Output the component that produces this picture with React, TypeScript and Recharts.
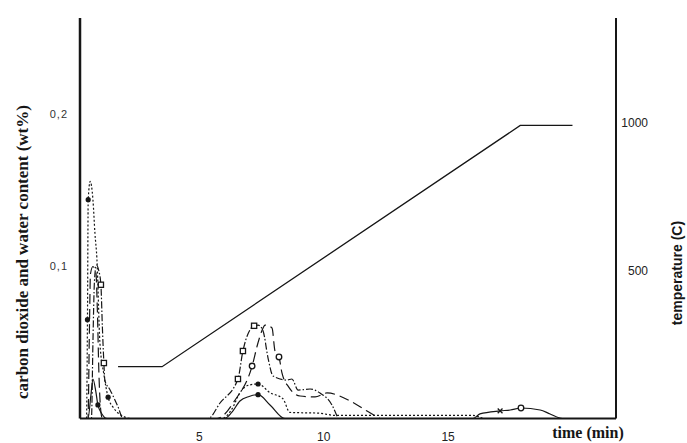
import { LineChart, Line, XAxis, YAxis } from "recharts";

// axis ticks
const timeTicks = [5, 10, 15];
const contentTicks = [0.1, 0.2];
const tempTicks = [500, 1000];

// temperature programme (C)
const tempTime = [1.73, 3.5, 17.9, 20.0];
const tempValue = [175, 175, 990, 990];

// dotted curve, filled dots
const s1Time = [0.3, 0.46, 0.5, 0.53, 0.61, 0.72, 0.8, 0.88, 1.0, 1.16, 1.33, 1.55, 1.73, 2.29, 5.9, 6.3, 6.63, 7.0, 7.36, 7.84, 8.36, 8.64, 9.8, 10.5, 13, 16, 16.4];
const s1Value = [0, 0, 0.065, 0.144, 0.156, 0.144, 0.122, 0.105, 0.05, 0.029, 0.014, 0.007, 0.0036, 0, 0, 0.006, 0.017, 0.022, 0.0227, 0.017, 0.013, 0.004, 0.0035, 0.002, 0.002, 0.002, 0];
const s1Dots = [0.5, 0.53, 1.33, 7.36];

// solid curve
const s2Time = [0.3, 0.52, 0.64, 0.72, 0.84, 0.92, 1.08, 1.29, 6.0, 6.3, 6.63, 7.0, 7.36, 7.84, 8.44, 16.0, 16.28, 17.09, 17.5, 17.93, 18.7, 19.1, 19.6, 21.0];
const s2Value = [0, 0, 0.0155, 0.026, 0.0174, 0.0089, 0.003, 0, 0, 0.004, 0.0115, 0.0145, 0.0157, 0.0089, 0, 0, 0.003, 0.005, 0.0056, 0.0069, 0.0056, 0.003, 0, 0];
const s2Dots = [0.92, 7.36];
const s2Cross = [17.09];
const s2Rings = [17.93];

// dash-dot curve, open squares
const s3Time = [0.3, 0.66, 0.72, 0.78, 0.86, 0.96, 1.04, 1.1, 1.16, 1.2, 1.41, 1.73, 1.93, 5.35, 5.83, 6.55, 6.75, 7.2, 7.36, 7.56, 7.76, 7.96, 8.52, 8.72, 8.97, 9.45, 9.85, 10.33, 10.57];
const s3Value = [0, 0, 0.05, 0.09, 0.101, 0.097, 0.088, 0.06, 0.0365, 0.025, 0.0188, 0.0076, 0, 0, 0.0102, 0.026, 0.0444, 0.061, 0.0615, 0.0576, 0.0398, 0.028, 0.0253, 0.026, 0.0187, 0.0194, 0.0168, 0.0089, 0];
const s3Squares = [1.04, 1.16, 6.55, 6.75, 7.2];

// long-dash curve, open circles
const s4Time = [0.3, 0.52, 0.58, 0.62, 0.72, 0.84, 0.9, 0.96, 1.02, 1.1, 5.71, 6.43, 7.12, 7.36, 7.52, 7.64, 7.92, 8.04, 8.2, 8.32, 8.6, 9.05, 9.65, 10.13, 11.06, 11.74, 12.26];
const s4Value = [0, 0, 0.06, 0.095, 0.1, 0.096, 0.07, 0.03, 0.008, 0, 0, 0.012, 0.0345, 0.05, 0.058, 0.0615, 0.0595, 0.0444, 0.0405, 0.03, 0.0205, 0.0148, 0.0142, 0.0168, 0.0115, 0.0049, 0];
const s4Rings = [7.12, 8.2];

const INK = "#161616";
const SANS = "'Liberation Sans Narrow', 'Liberation Sans', Arial, sans-serif";
const SERIF = "'Liberation Serif', 'Times New Roman', serif";

function toRows(time: number[], value: number[], marks: Record<string, number[]> = {}) {
  return time.map((t, i) => {
    let m = "";
    for (const k of Object.keys(marks)) if (marks[k].includes(t)) m = k;
    return { t, v: value[i], m };
  });
}

const tempRows = toRows(tempTime, tempValue);
const s1Rows = toRows(s1Time, s1Value, { dot: s1Dots });
const s2Rows = toRows(s2Time, s2Value, { dot: s2Dots, cross: s2Cross, ring: s2Rings });
const s3Rows = toRows(s3Time, s3Value, { square: s3Squares });
const s4Rows = toRows(s4Time, s4Value, { ring: s4Rings });

const Marker = (props: any) => {
  const { cx, cy, payload, index } = props;
  const key = `mk-${index}`;
  if (!payload?.m || cx == null || cy == null) return <g key={key} />;
  switch (payload.m) {
    case "dot":
      return <circle key={key} cx={cx} cy={cy} r={2.6} fill={INK} />;
    case "ring":
      return <circle key={key} cx={cx} cy={cy} r={2.8} fill="#fff" stroke={INK} strokeWidth={1.3} />;
    case "square":
      return <rect key={key} x={cx - 2.6} y={cy - 2.6} width={5.2} height={5.2} fill="#fff" stroke={INK} strokeWidth={1.3} />;
    case "cross":
      return (
        <path
          key={key}
          d={`M${cx - 2.4},${cy - 2.4}L${cx + 2.4},${cy + 2.4}M${cx - 2.4},${cy + 2.4}L${cx + 2.4},${cy - 2.4}`}
          stroke={INK}
          strokeWidth={1.3}
        />
      );
    default:
      return <g key={key} />;
  }
};

const TimeTick = ({ x, y, payload }: any) => (
  <text x={x} y={y + 22.5} textAnchor="middle" fontSize={12} fontFamily={SANS} fill="#222">
    {payload.value}
  </text>
);

const ContentTick = ({ x, y, payload }: any) => (
  <text x={x - 12} y={y} dy="0.35em" textAnchor="end" fontSize={11} letterSpacing={1} fontFamily={SANS} fill="#333">
    {String(payload.value).replace(".", ",")}
  </text>
);

const TempTick = ({ x, y, payload }: any) => (
  <text x={x + 32} y={y} dy="0.35em" textAnchor="end" fontSize={12} fontFamily={SANS} fill="#222">
    {payload.value}
  </text>
);

const title = (left: number, top: number, rotate: number, font: string) => ({
  position: "absolute" as const,
  left,
  top,
  transform: `translate(-50%, -50%) rotate(${rotate}deg)`,
  whiteSpace: "nowrap" as const,
  font,
  color: INK,
  lineHeight: 1,
});

export default function App() {
  return (
    <div style={{ position: "absolute", left: 0, top: 0, width: 687, height: 443, background: "#fff" }}>
      <LineChart width={687} height={443} margin={{ top: 18, right: 11, bottom: 4.5, left: 0 }}>
        <XAxis
          dataKey="t"
          type="number"
          domain={[0.2, 21.75]}
          allowDataOverflow
          ticks={timeTicks}
          tick={<TimeTick />}
          tickLine={false}
          tickSize={0}
          tickMargin={0}
          height={20}
          axisLine={{ stroke: INK, strokeWidth: 2 }}
        />
        <YAxis
          yAxisId="content"
          orientation="left"
          type="number"
          domain={[0, 0.2635]}
          allowDataOverflow
          ticks={contentTicks}
          tick={<ContentTick />}
          tickLine={false}
          tickSize={0}
          tickMargin={0}
          width={80}
          axisLine={{ stroke: INK, strokeWidth: 2.5 }}
        />
        <YAxis
          yAxisId="temp"
          orientation="right"
          type="number"
          domain={[0, 1353]}
          allowDataOverflow
          ticks={tempTicks}
          tick={<TempTick />}
          tickLine={false}
          tickSize={0}
          tickMargin={0}
          width={60}
          axisLine={{ stroke: INK, strokeWidth: 2 }}
        />
        <Line
          data={tempRows}
          yAxisId="temp"
          dataKey="v"
          type="linear"
          stroke={INK}
          strokeWidth={1.3}
          dot={false}
          isAnimationActive={false}
        />
        <Line
          data={s1Rows}
          yAxisId="content"
          dataKey="v"
          type="monotone"
          stroke={INK}
          strokeWidth={1.2}
          strokeDasharray="2 2"
          dot={<Marker />}
          activeDot={false}
          isAnimationActive={false}
        />
        <Line
          data={s2Rows}
          yAxisId="content"
          dataKey="v"
          type="monotone"
          stroke={INK}
          strokeWidth={1.2}
          dot={<Marker />}
          activeDot={false}
          isAnimationActive={false}
        />
        <Line
          data={s3Rows}
          yAxisId="content"
          dataKey="v"
          type="monotone"
          stroke={INK}
          strokeWidth={1.2}
          strokeDasharray="7 2 1.5 2"
          dot={<Marker />}
          activeDot={false}
          isAnimationActive={false}
        />
        <Line
          data={s4Rows}
          yAxisId="content"
          dataKey="v"
          type="monotone"
          stroke={INK}
          strokeWidth={1.2}
          strokeDasharray="10 5"
          dot={<Marker />}
          activeDot={false}
          isAnimationActive={false}
        />
      </LineChart>
      <div style={title(22, 252, -90, `bold 17px ${SERIF}`)}>carbon dioxide and water content (wt%)</div>
      <div style={title(677, 273, -90, `bold 14px 'Liberation Sans', Arial, sans-serif`)}>temperature (C)</div>
      <div style={title(588, 433, 0, `bold 16px ${SERIF}`)}>time (min)</div>
    </div>
  );
}
